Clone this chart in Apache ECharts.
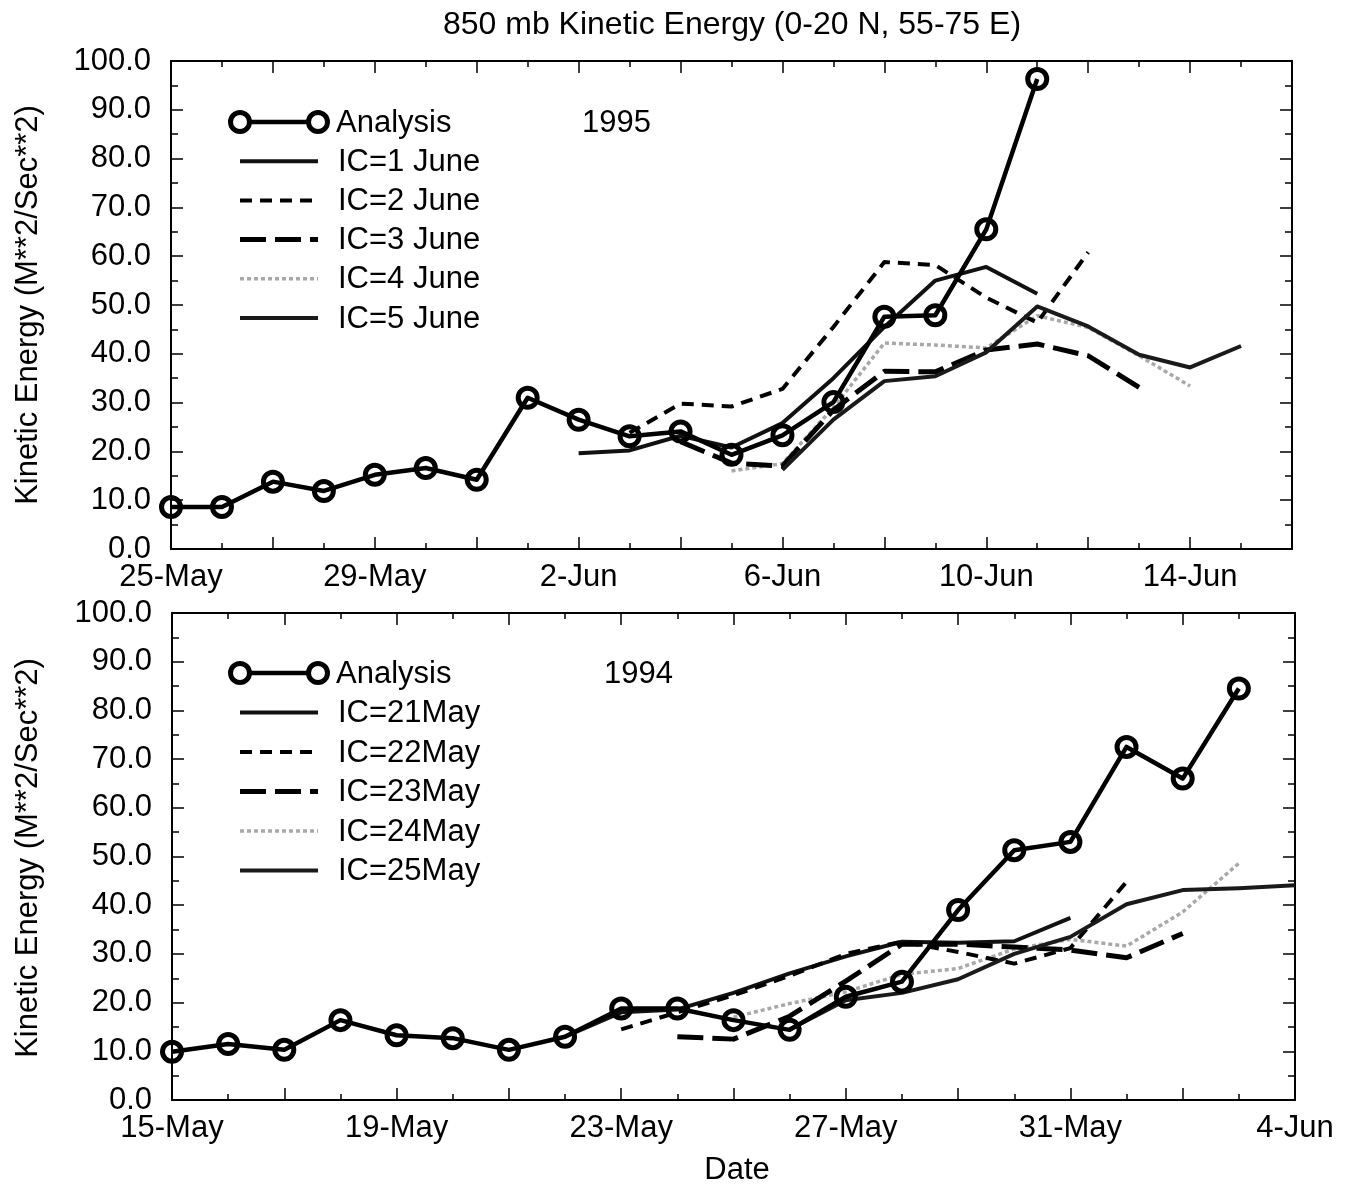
<!DOCTYPE html>
<html>
<head>
<meta charset="utf-8">
<script src="https://cdn.jsdelivr.net/npm/echarts@6/dist/echarts.min.js"></script>
<style>
html,body{margin:0;padding:0;background:#fff;}
#chart{width:1352px;height:1187px;}
</style>
</head>
<body>
<div id="chart"></div>
<script>
// ---------- tick / category labels ----------
const topDates = ['25-May','26-May','27-May','28-May','29-May','30-May','31-May',
  '1-Jun','2-Jun','3-Jun','4-Jun','5-Jun','6-Jun','7-Jun','8-Jun','9-Jun','10-Jun',
  '11-Jun','12-Jun','13-Jun','14-Jun','15-Jun','16-Jun'];
const botDates = ['15-May','16-May','17-May','18-May','19-May','20-May','21-May','22-May',
  '23-May','24-May','25-May','26-May','27-May','28-May','29-May','30-May','31-May',
  '1-Jun','2-Jun','3-Jun','4-Jun'];
const yTicks = [0,10,20,30,40,50,60,70,80,90,100];

// ---------- 1995 (top) ----------
const topAnalysisStart = '25-May';
const topAnalysis = [8.6, 8.6, 13.8, 11.9, 15.2, 16.6, 14.2, 31.0, 26.5, 23.1, 24.1, 19.3, 23.3, 30.1, 47.6, 47.9, 65.5, 96.3];
const topIC1Start = '2-Jun';
const topIC1 = [19.6, 20.2, 23.2, 20.8, 25.8, 35.0, 45.5, 55.0, 57.8, 52.3];
const topIC2Start = '3-Jun';
const topIC2 = [23.8, 29.8, 29.2, 32.8, 45.5, 58.8, 58.2, 51.5, 46.4, 60.8];
const topIC3Start = '4-Jun';
const topIC3 = [22.0, 17.6, 17.0, 28.5, 36.4, 36.3, 40.8, 42.0, 39.6, 33.1];
const topIC4Start = '5-Jun';
const topIC4 = [16.0, 17.5, 29.0, 42.2, 41.8, 41.2, 47.8, 45.4, 39.6, 33.4];
const topIC5Start = '6-Jun';
const topIC5 = [16.2, 26.5, 34.4, 35.4, 40.3, 49.7, 45.6, 39.8, 37.2, 41.6];
const topNames = ['Analysis','IC=1 June','IC=2 June','IC=3 June','IC=4 June','IC=5 June'];

// ---------- 1994 (bottom) ----------
const botAnalysisStart = '15-May';
const botAnalysis = [9.9, 11.5, 10.3, 16.4, 13.3, 12.7, 10.3, 13.0, 18.8, 18.8, 16.4, 14.4, 21.2, 24.3, 39.0, 51.3, 53.0, 72.5, 66.0, 84.5];
const botIC1Start = '22-May';
const botIC1 = [13.0, 18.0, 18.6, 22.0, 26.0, 29.5, 32.5, 32.3, 32.6, 37.4];
const botIC2Start = '23-May';
const botIC2 = [14.5, 18.0, 21.5, 25.5, 30.0, 32.5, 30.4, 28.0, 31.2, 44.8];
const botIC3Start = '24-May';
const botIC3 = [13.0, 12.5, 17.2, 24.4, 32.0, 32.0, 31.4, 30.8, 29.2, 34.2];
const botIC4Start = '25-May';
const botIC4 = [17.0, 19.8, 22.2, 25.8, 27.0, 31.0, 33.0, 31.6, 38.6, 48.6];
const botIC5Start = '26-May';
const botIC5 = [14.5, 20.5, 22.0, 24.8, 30.0, 33.5, 40.2, 43.1, 43.5, 44.1];
const botNames = ['Analysis','IC=21May','IC=22May','IC=23May','IC=24May','IC=25May'];

// ---------- helpers ----------
const FONT = '"Liberation Sans", Arial, Helvetica, sans-serif';
const FS = 31;
function pairs(dates, start, vals){
  const s = dates.indexOf(start);
  return vals.map((v,i)=>[s+i, v]);
}
const styles = [
  {type:'solid', width:4.5, color:'#000'},
  {type:'solid', width:4, color:'#111'},
  {type:[12,8], width:4, color:'#000'},
  {type:[26,9], width:5, color:'#000'},
  {type:[4,3], width:3.5, color:'#a8a8a8'},
  {type:'solid', width:4, color:'#1a1a1a'}
];

const grids = [
  {left:171, top:61, width:1121, height:488},
  {left:172, top:613, width:1123, height:487}
];

function xAxes(gi, dates){
  const max = dates.length - 1;
  const base = {gridIndex:gi, type:'value', min:0, max:max, interval:2,
    axisLine:{show:true, onZero:false, lineStyle:{color:'#000', width:2}},
    axisTick:{show:true, inside:true, length:12, lineStyle:{color:'#000', width:1.5}},
    minorTick:{show:true, splitNumber:2, length:6, lineStyle:{color:'#000', width:1.5}},
    splitLine:{show:false}, minorSplitLine:{show:false}};
  return [
    Object.assign({}, base, {position:'bottom',
      axisLabel:{show:true, margin:13, color:'#000', fontFamily:FONT, fontSize:FS,
        showMaxLabel:true, showMinLabel:true,
        formatter:(v)=> (Math.round(v)%4===0 ? dates[Math.round(v)] : '')}}),
    Object.assign({}, base, {position:'top', axisLabel:{show:false}})
  ];
}
function yAxes(gi){
  const base = {gridIndex:gi, type:'value', min:yTicks[0], max:yTicks[yTicks.length-1], interval:yTicks[1]-yTicks[0],
    axisLine:{show:true, onZero:false, lineStyle:{color:'#000', width:2}},
    axisTick:{show:true, inside:true, length:12, lineStyle:{color:'#000', width:1.5}},
    minorTick:{show:true, splitNumber:2, length:7, lineStyle:{color:'#000', width:1.5}},
    splitLine:{show:false}, minorSplitLine:{show:false}};
  return [
    Object.assign({}, base, {position:'left',
      axisLabel:{show:true, margin:20, color:'#000', fontFamily:FONT, fontSize:FS,
        formatter:(v)=>v.toFixed(1)}}),
    Object.assign({}, base, {position:'right', axisLabel:{show:false}})
  ];
}

function makeSeries(gi, dates, names, sets){
  const out = [];
  sets.forEach((d, k)=>{
    const isA = k===0;
    out.push({
      name: names[k], type:'line', xAxisIndex: gi*2, yAxisIndex: gi*2,
      data: pairs(dates, d[0], d[1]),
      showSymbol: isA, symbol: isA ? 'circle' : 'none', symbolSize: 19,
      itemStyle: isA ? {color:'rgba(255,255,255,0)', borderColor:'#000', borderWidth:5} : {color:styles[k].color},
      lineStyle: {type: styles[k].type, width: styles[k].width, color: styles[k].color, cap:'butt', join:'round'},
      z: isA ? 10 : (k===4 ? 3 : 5),
      animation:false, silent:true
    });
  });
  return out;
}

const series = [].concat(
  makeSeries(0, topDates, topNames, [
    [topAnalysisStart, topAnalysis],[topIC1Start, topIC1],[topIC2Start, topIC2],
    [topIC3Start, topIC3],[topIC4Start, topIC4],[topIC5Start, topIC5]]),
  makeSeries(1, botDates, botNames, [
    [botAnalysisStart, botAnalysis],[botIC1Start, botIC1],[botIC2Start, botIC2],
    [botIC3Start, botIC3],[botIC4Start, botIC4],[botIC5Start, botIC5]])
);

// ---------- legend (drawn with graphics) ----------
function legendGraphics(names, x0, y0, dy, yearText, yearX){
  const g = [];
  const x1 = x0, x2 = x0 + 78, tx = x0 + 98;
  names.forEach((n, k)=>{
    const y = y0 + k*dy;
    const st = styles[k];
    g.push({type:'line', shape:{x1:x1, y1:y, x2:x2, y2:y}, z:50,
      style:{stroke:st.color, lineWidth:st.width, lineDash: Array.isArray(st.type) ? st.type : null}});
    if (k===0){
      [x1, x2].forEach(cx=>g.push({type:'circle', shape:{cx:cx, cy:y, r:9.5}, z:51,
        style:{fill:'#fff', stroke:'#000', lineWidth:5}}));
    }
    g.push({type:'text', x: (k===0 ? tx-2 : tx), y:y+1, z:52,
      style:{text:n, fill:'#000', font:FS+'px '+FONT, textAlign:'left', textVerticalAlign:'middle'}});
  });
  g.push({type:'text', x:yearX, y:y0+1, z:52,
    style:{text:yearText, fill:'#000', font:FS+'px '+FONT, textAlign:'left', textVerticalAlign:'middle'}});
  return g;
}

const graphics = [].concat(
  legendGraphics(topNames, 240, 122, 39.2, '1995', 582),
  legendGraphics(botNames, 240, 673, 39.5, '1994', 604),
  [
    {type:'text', x:732, y:25, style:{text:'850 mb Kinetic Energy (0-20 N, 55-75 E)', fill:'#000',
      font:'32px '+FONT, textAlign:'center', textVerticalAlign:'middle'}},
    {type:'text', x:737, y:1170, style:{text:'Date', fill:'#000',
      font:FS+'px '+FONT, textAlign:'center', textVerticalAlign:'middle'}},
    {type:'text', x:28, y:305, rotation:Math.PI/2, style:{text:'Kinetic Energy (M**2/Sec**2)', fill:'#000',
      font:FS+'px '+FONT, textAlign:'center', textVerticalAlign:'middle'}},
    {type:'text', x:28, y:858, rotation:Math.PI/2, style:{text:'Kinetic Energy (M**2/Sec**2)', fill:'#000',
      font:FS+'px '+FONT, textAlign:'center', textVerticalAlign:'middle'}}
  ]
);

const chart = echarts.init(document.getElementById('chart'), null, {renderer:'canvas'});
chart.setOption({
  backgroundColor:'#fff',
  animation:false,
  textStyle:{fontFamily:FONT},
  grid: grids,
  xAxis: [].concat(xAxes(0, topDates), xAxes(1, botDates)),
  yAxis: [].concat(yAxes(0), yAxes(1)),
  series: series,
  graphic: graphics
});
</script>
</body>
</html>
